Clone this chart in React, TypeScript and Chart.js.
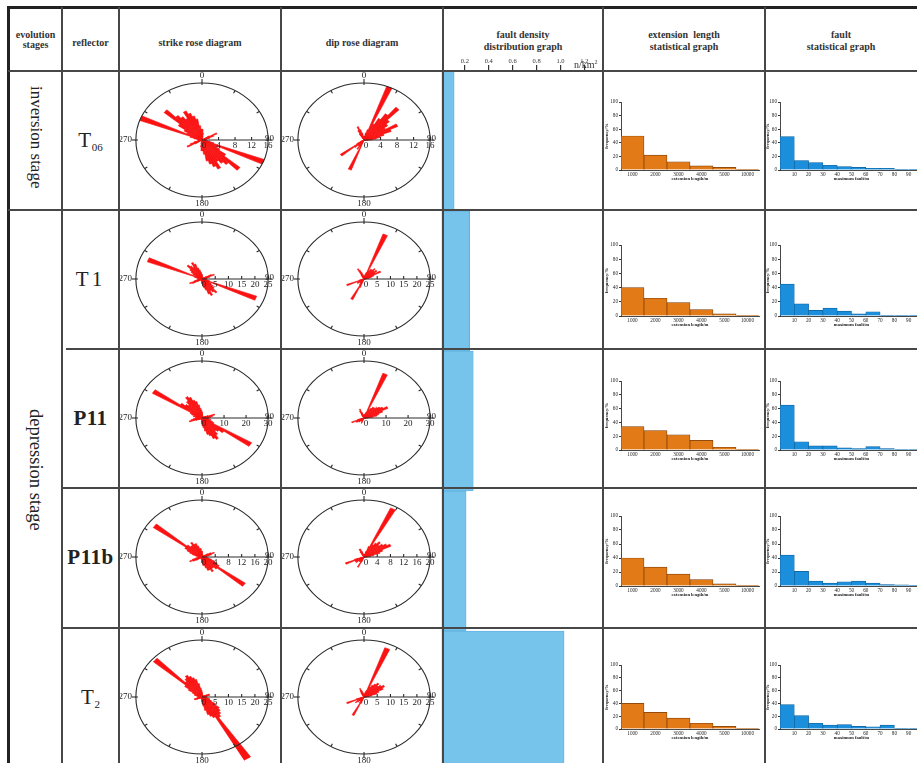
import React, { useEffect, useRef } from 'react';
import { Chart, registerables } from 'chart.js';

Chart.register(...registerables);

// ---------------- DATA ----------------
const STAGES = ['inversion stage', 'depression stage'];
const REFLECTOR_MAIN = ['T', 'T1', 'P11', 'P11b', 'T'];
const REFLECTOR_SUB = ['06', '', '', '', '2'];

// strike rose: 5° bins from 0° to 355°
const STRIKE_T06 = [
  3, 2, 1, 0, 0, 0, 0, 0, 0, 0, 0, 2,
  4, 3, 2, 1, 1, 0, 1, 1, 2, 3, 16, 4,
  5, 7, 12, 9, 8, 7, 9, 8, 7, 6, 4, 3,
  3, 2, 1, 0, 0, 0, 0, 0, 0, 0, 0, 2,
  4, 3, 2, 1, 1, 0, 1, 1, 2, 3, 16, 4,
  5, 7, 12, 9, 8, 7, 9, 8, 7, 6, 4, 3,
];
const STRIKE_T1 = [
  2, 1, 1, 0, 0, 0, 0, 0, 0, 0, 1, 2,
  4, 5, 3, 2, 1, 1, 1, 1, 2, 3, 22, 3,
  4, 5, 6, 8, 7, 6, 8, 7, 5, 4, 3, 2,
  2, 1, 1, 0, 0, 0, 0, 0, 0, 0, 1, 2,
  4, 5, 3, 2, 1, 1, 1, 1, 2, 3, 22, 3,
  4, 5, 6, 8, 7, 6, 8, 7, 5, 4, 3, 2,
];
const STRIKE_P11 = [
  3, 2, 1, 0, 0, 0, 0, 0, 0, 0, 1, 1,
  2, 3, 6, 5, 4, 3, 3, 2, 4, 3, 5, 6,
  26, 12, 10, 9, 11, 13, 12, 10, 9, 7, 5, 4,
  3, 2, 1, 0, 0, 0, 0, 0, 0, 0, 1, 1,
  2, 3, 6, 5, 4, 3, 3, 2, 4, 3, 5, 6,
  26, 12, 10, 9, 11, 13, 12, 10, 9, 7, 5, 4,
];
const STRIKE_P11B = [
  2, 1, 1, 0, 0, 0, 0, 0, 0, 0, 1, 2,
  3, 4, 3, 2, 1, 1, 1, 1, 2, 3, 4, 5,
  6, 16, 6, 5, 5, 6, 5, 5, 4, 3, 3, 2,
  2, 1, 1, 0, 0, 0, 0, 0, 0, 0, 1, 2,
  3, 4, 3, 2, 1, 1, 1, 1, 2, 3, 4, 5,
  6, 18, 6, 5, 5, 6, 5, 5, 4, 3, 3, 2,
];
const STRIKE_T2 = [
  2, 1, 1, 0, 0, 0, 0, 0, 0, 0, 1, 1,
  2, 3, 3, 2, 1, 1, 1, 1, 2, 3, 3, 4,
  6, 8, 9, 10, 11, 32, 10, 9, 8, 6, 4, 3,
  2, 1, 1, 0, 0, 0, 0, 0, 0, 0, 1, 1,
  2, 3, 3, 2, 1, 1, 1, 1, 2, 3, 3, 4,
  6, 8, 24, 9, 10, 11, 10, 9, 8, 6, 4, 3,
];

// dip rose: 5° bins from 0° to 355°
const DIP_T06 = [
  1, 1, 2, 3, 16, 5, 7, 9, 12, 8, 7, 6,
  9, 7, 5, 4, 3, 2, 1, 0, 0, 0, 0, 0,
  0, 0, 0, 0, 0, 0, 0, 0, 0, 0, 0, 0,
  0, 0, 0, 0, 9, 2, 3, 2, 2, 3, 7, 2,
  1, 0, 0, 0, 0, 0, 0, 0, 0, 0, 0, 0,
  0, 0, 0, 0, 0, 2, 3, 4, 3, 2, 1, 1,
];
const DIP_T1 = [
  1, 1, 2, 3, 21, 4, 5, 5, 6, 5, 6, 5,
  7, 4, 3, 2, 1, 0, 0, 0, 0, 0, 0, 0,
  0, 0, 0, 0, 0, 0, 0, 0, 0, 0, 0, 0,
  0, 0, 0, 0, 4, 10, 3, 2, 2, 2, 3, 3,
  2, 7, 2, 1, 0, 0, 0, 0, 0, 0, 0, 0,
  0, 0, 0, 0, 0, 2, 5, 4, 3, 2, 1, 1,
];
const DIP_P11 = [
  1, 2, 2, 3, 25, 5, 6, 7, 7, 8, 9, 10,
  12, 9, 7, 6, 4, 2, 1, 0, 0, 0, 0, 0,
  0, 0, 0, 0, 0, 0, 0, 0, 0, 0, 0, 0,
  0, 0, 0, 0, 3, 2, 2, 2, 2, 3, 3, 4,
  4, 6, 3, 1, 0, 0, 0, 0, 0, 0, 0, 0,
  0, 0, 0, 0, 0, 2, 4, 5, 3, 2, 1, 1,
];
const DIP_P11B = [
  1, 1, 1, 2, 4, 19, 5, 6, 7, 6, 7, 8,
  9, 6, 5, 3, 2, 1, 0, 0, 0, 0, 0, 0,
  0, 0, 0, 0, 0, 0, 0, 0, 0, 0, 0, 0,
  0, 0, 0, 0, 2, 4, 2, 2, 2, 2, 3, 3,
  3, 6, 3, 1, 0, 0, 0, 0, 0, 0, 0, 0,
  0, 0, 0, 0, 0, 2, 3, 3, 2, 1, 1, 1,
];
const DIP_T2 = [
  1, 1, 2, 3, 23, 5, 6, 7, 8, 7, 8, 9,
  8, 6, 5, 3, 2, 1, 0, 0, 0, 0, 0, 0,
  0, 0, 0, 0, 0, 0, 0, 0, 0, 0, 0, 0,
  0, 0, 0, 0, 3, 9, 3, 2, 2, 3, 4, 3,
  2, 7, 3, 1, 0, 0, 0, 0, 0, 0, 0, 0,
  0, 0, 0, 0, 0, 2, 3, 4, 3, 2, 1, 1,
];

const ROSE_TICKS_T06 = [0, 4, 8, 12, 16];
const ROSE_TICKS_T1 = [0, 5, 10, 15, 20, 25];
const ROSE_TICKS_P11 = [0, 10, 20, 30];
const ROSE_TICKS_P11B = [0, 4, 8, 12, 16, 20];
const ROSE_TICKS_T2 = [0, 5, 10, 15, 20, 25];

// fault density (n/km²)
const DENSITY = [0.11, 0.24, 0.27, 0.21, 1.03];

// extension length histogram (%)
const EXT_LABELS = ['1000', '2000', '3000', '4000', '5000', '10000'];
const EXT_T06 = [50, 22, 12, 6, 4, 1];
const EXT_T1 = [40, 25, 19, 9, 3, 1];
const EXT_P11 = [34, 28, 22, 14, 4, 1];
const EXT_P11B = [40, 27, 17, 9, 3, 1];
const EXT_T2 = [40, 26, 17, 9, 4, 1];

// maximum fault histogram (%), bins of 10 m
const FAULT_BIN_CENTERS = [5, 15, 25, 35, 45, 55, 65, 75, 85, 95];
const FAULT_T06 = [49, 14, 11, 7, 5, 4, 2.5, 2.5, 0.6, 0.6];
const FAULT_T1 = [45, 17, 8, 11, 7, 3, 6, 1, 1, 1];
const FAULT_P11 = [65, 12, 6, 6, 3, 2, 5, 2, 0.6, 0.6];
const FAULT_P11B = [44, 21, 7, 4, 6, 7, 4, 2, 1.5, 1];
const FAULT_T2 = [38, 21, 9, 6, 7, 4, 3.5, 6, 1, 1];

const STRIKES = [STRIKE_T06, STRIKE_T1, STRIKE_P11, STRIKE_P11B, STRIKE_T2];
const DIPS = [DIP_T06, DIP_T1, DIP_P11, DIP_P11B, DIP_T2];
const ROSE_TICKS = [ROSE_TICKS_T06, ROSE_TICKS_T1, ROSE_TICKS_P11, ROSE_TICKS_P11B, ROSE_TICKS_T2];
const EXTS = [EXT_T06, EXT_T1, EXT_P11, EXT_P11B, EXT_T2];
const FAULTS = [FAULT_T06, FAULT_T1, FAULT_P11, FAULT_P11B, FAULT_T2];

// ---------------- LAYOUT / STYLE ----------------
const SERIF = '"Liberation Serif", "Times New Roman", serif';
const RED = 'rgb(250,18,18)';
const ORANGE = '#e27a17';
const ORANGE_EDGE = '#7a3d0c';
const BLUE = '#1b8fdc';
const BLUE_EDGE = '#0d5f9c';
const DENS_FILL = '#76c3ec';
const DENS_EDGE = '#5aaede';
const LINE = '#474747';

const ROW_TOP = [71, 210, 349, 488, 628];
const ROW_H = 139;
const HIST_TOP = [102, 245, 381, 516, 665];
const HIST_BOTTOM = [170, 316, 450, 586, 729];
const ROSE_SX = 1.16;

// ---------------- CHART HELPERS ----------------
const roseFrame = {
  id: 'roseFrame',
  beforeDatasetsDraw(chart: any, _a: any, o: any) {
    const s = chart.scales.r;
    const c = chart.ctx;
    c.save();
    c.translate(s.xCenter, s.yCenter);
    c.scale(o.sx, 1);
    c.translate(-s.xCenter, -s.yCenter);
  },
  afterDatasetsDraw(chart: any) {
    chart.ctx.restore();
  },
  afterDraw(chart: any, _a: any, o: any) {
    const s = chart.scales.r;
    const c = chart.ctx;
    const cx = s.xCenter;
    const cy = s.yCenter;
    const R = s.drawingArea;
    const rx = R * o.sx;
    c.save();
    c.strokeStyle = '#2a2a2a';
    c.fillStyle = '#222';
    c.lineWidth = 1.1;
    c.beginPath();
    c.ellipse(cx, cy, rx, R, 0, 0, Math.PI * 2);
    c.stroke();
    for (let a = 0; a < 360; a += 30) {
      const t = (a * Math.PI) / 180;
      const ux = Math.sin(t);
      const uy = -Math.cos(t);
      const px = cx + rx * ux;
      const py = cy + R * uy;
      const out = a % 90 === 0 ? 4 : 0;
      const inn = a % 90 === 0 ? 2 : 3;
      c.beginPath();
      c.moveTo(px + ux * out, py + uy * out);
      c.lineTo(px - ux * inn, py - uy * inn);
      c.stroke();
    }
    c.beginPath();
    c.moveTo(cx, cy);
    c.lineTo(cx + rx, cy);
    c.stroke();
    c.font = `9px ${SERIF}`;
    c.textAlign = 'center';
    c.textBaseline = 'top';
    o.ticks.forEach((v: number) => {
      const x = cx + o.sx * s.getDistanceFromCenterForValue(v);
      if (v > 0) {
        c.beginPath();
        c.moveTo(x, cy);
        c.lineTo(x, cy - 3);
        c.stroke();
      }
      c.fillText(String(v), x + (v === 0 ? 2 : 0), cy + 1);
    });
    c.textBaseline = 'bottom';
    c.fillText('0', cx, cy - R - 3);
    c.textBaseline = 'top';
    c.fillText('180', cx, cy + R + 2);
    c.textAlign = 'right';
    c.textBaseline = 'middle';
    c.fillText('270', cx - rx - 4, cy);
    c.textAlign = 'left';
    c.textBaseline = 'bottom';
    c.fillText('90', cx + rx - 3, cy + 3);
    c.restore();
  },
};

function roseConfig(values: number[], ticks: number[]): any {
  const labels = values.map((_, i) => `${i * 5}°`);
  return {
    type: 'polarArea',
    data: {
      labels,
      datasets: [
        {
          data: values,
          backgroundColor: RED,
          borderColor: RED,
          borderWidth: 0.6,
          clip: false,
        },
      ],
    },
    options: {
      animation: false,
      responsive: false,
      devicePixelRatio: 1,
      layout: { padding: { top: 12, bottom: 12, left: 4, right: 0 } },
      plugins: {
        legend: { display: false },
        tooltip: { enabled: false },
        roseFrame: { sx: ROSE_SX, ticks },
      },
      scales: {
        r: {
          min: 0,
          max: ticks[ticks.length - 1],
          ticks: { display: false },
          grid: { display: false },
          angleLines: { display: false },
          pointLabels: { display: false },
        },
      },
    },
    plugins: [roseFrame],
  };
}

const tinyFont = { family: SERIF, size: 5.2 };
const titleFont = { family: SERIF, size: 4.6, weight: 'bold' };

function histY(): any {
  return {
    min: 0,
    max: 100,
    ticks: { stepSize: 20, font: tinyFont, color: '#222', padding: 1 },
    grid: { drawOnChartArea: false, tickLength: 2, color: '#333' },
    border: { color: '#333', width: 0.9 },
    title: { display: true, text: 'frequency/%', font: titleFont, color: '#222', padding: 0 },
  };
}

function extConfig(values: number[]): any {
  return {
    type: 'bar',
    data: {
      labels: EXT_LABELS,
      datasets: [
        {
          data: values,
          backgroundColor: ORANGE,
          borderColor: ORANGE_EDGE,
          borderWidth: 0.7,
          barPercentage: 1,
          categoryPercentage: 1,
        },
      ],
    },
    options: {
      animation: false,
      responsive: false,
      devicePixelRatio: 1,
      layout: { padding: { top: 6, right: 4, left: 0, bottom: 0 }, autoPadding: false },
      plugins: { legend: { display: false }, tooltip: { enabled: false } },
      scales: {
        x: {
          grid: { display: false, drawTicks: false },
          border: { color: '#333', width: 0.9 },
          ticks: { font: tinyFont, color: '#222', padding: 2, maxRotation: 0, autoSkip: false },
          title: { display: true, text: 'extension length/m', font: titleFont, color: '#222', padding: 0 },
          afterFit: (s: any) => { s.height = 12; },
        },
        y: { ...histY(), afterFit: (s: any) => { s.width = 17; } },
      },
    },
  };
}

function faultConfig(values: number[]): any {
  return {
    type: 'bar',
    data: {
      datasets: [
        {
          data: values.map((v, i) => ({ x: FAULT_BIN_CENTERS[i], y: v })),
          backgroundColor: BLUE,
          borderColor: BLUE_EDGE,
          borderWidth: 0.7,
          barPercentage: 1,
          categoryPercentage: 1,
        },
      ],
    },
    options: {
      animation: false,
      responsive: false,
      devicePixelRatio: 1,
      layout: { padding: { top: 6, right: 7, left: 0, bottom: 0 }, autoPadding: false },
      plugins: { legend: { display: false }, tooltip: { enabled: false } },
      scales: {
        x: {
          type: 'linear',
          min: 0,
          max: 100,
          offset: false,
          grid: { display: false, drawTicks: false },
          border: { color: '#333', width: 0.9 },
          ticks: {
            stepSize: 10,
            font: tinyFont,
            color: '#222',
            padding: 2,
            maxRotation: 0,
            autoSkip: false,
            callback: (v: number) => (v > 0 && v < 100 ? String(v) : ''),
          },
          title: { display: true, text: 'maximum fault/m', font: titleFont, color: '#222', padding: 0 },
          afterFit: (s: any) => { s.height = 12; },
        },
        y: { ...histY(), afterFit: (s: any) => { s.width = 15; } },
      },
    },
  };
}

function densityConfig(): any {
  return {
    type: 'bar',
    data: {
      labels: REFLECTOR_MAIN.map((m, i) => m + REFLECTOR_SUB[i]),
      datasets: [
        {
          data: DENSITY,
          backgroundColor: DENS_FILL,
          borderColor: DENS_EDGE,
          borderWidth: 0.8,
          barPercentage: 1,
          categoryPercentage: 1,
        },
      ],
    },
    options: {
      indexAxis: 'y',
      animation: false,
      responsive: false,
      devicePixelRatio: 1,
      layout: { padding: 0, autoPadding: false },
      plugins: { legend: { display: false }, tooltip: { enabled: false } },
      scales: {
        x: {
          position: 'top',
          min: 0,
          max: 1.356,
          border: { display: false },
          grid: {
            drawOnChartArea: false,
            tickLength: 6,
            lineWidth: 1.2,
            color: (ctx: any) => (ctx.tick && ctx.tick.value > 0.01 && ctx.tick.value < 1.3 ? '#333' : 'rgba(0,0,0,0)'),
          },
          ticks: {
            stepSize: 0.2,
            includeBounds: false,
            padding: 0,
            font: { family: SERIF, size: 6.5 },
            color: '#333',
            maxRotation: 0,
            autoSkip: false,
            callback: (v: number) => (v > 0.01 && v < 1.3 ? v.toFixed(1) : ''),
          },
          afterFit: (s: any) => { s.height = 16; },
        },
        y: { display: false },
      },
    },
  };
}

function ChartBox(props: { left: number; top: number; width: number; height: number; make: () => any }) {
  const ref = useRef<HTMLCanvasElement>(null);
  useEffect(() => {
    const chart = new Chart(ref.current as HTMLCanvasElement, props.make());
    return () => chart.destroy();
  }, []);
  return (
    <canvas
      ref={ref}
      width={props.width}
      height={props.height}
      style={{ position: 'absolute', left: props.left, top: props.top, width: props.width, height: props.height }}
    />
  );
}

function HLine({ x1, x2, y, w = 2, c = LINE }: { x1: number; x2: number; y: number; w?: number; c?: string }) {
  return <div style={{ position: 'absolute', left: x1, top: y - w / 2, width: x2 - x1, height: w, background: c }} />;
}
function VLine({ y1, y2, x, w = 2, c = LINE }: { y1: number; y2: number; x: number; w?: number; c?: string }) {
  return <div style={{ position: 'absolute', left: x - w / 2, top: y1, width: w, height: y2 - y1, background: c }} />;
}

const headStyle: React.CSSProperties = {
  position: 'absolute',
  textAlign: 'center',
  fontFamily: SERIF,
  fontWeight: 'bold',
  fontSize: 10,
  lineHeight: '11px',
  color: '#333',
};

export default function App() {
  return (
    <div style={{ position: 'fixed', left: 0, top: 0, width: 917, height: 763, overflow: 'hidden', background: '#fff' }}>
      {/* density column */}
      <ChartBox left={441} top={55} width={162} height={716} make={densityConfig} />

      {ROW_TOP.map((top, i) => (
        <React.Fragment key={i}>
          <ChartBox left={119} top={top} width={162} height={ROW_H} make={() => roseConfig(STRIKES[i], ROSE_TICKS[i])} />
          <ChartBox left={281} top={top} width={162} height={ROW_H} make={() => roseConfig(DIPS[i], ROSE_TICKS[i])} />
          <ChartBox
            left={604}
            top={HIST_TOP[i] - 6}
            width={159}
            height={HIST_BOTTOM[i] - HIST_TOP[i] + 18}
            make={() => extConfig(EXTS[i])}
          />
          <ChartBox
            left={765}
            top={HIST_TOP[i] - 6}
            width={165}
            height={HIST_BOTTOM[i] - HIST_TOP[i] + 18}
            make={() => faultConfig(FAULTS[i])}
          />
          <div
            style={{
              position: 'absolute',
              left: 62,
              top,
              width: 57,
              height: ROW_H,
              display: 'flex',
              alignItems: 'center',
              justifyContent: 'center',
              fontFamily: SERIF,
              fontSize: 21,
              color: '#222',
              letterSpacing: REFLECTOR_MAIN[i] === 'T1' ? 3 : 0.5,
              fontWeight: REFLECTOR_MAIN[i].startsWith('P') ? 'bold' : 'normal',
            }}
          >
            <span>
              {REFLECTOR_MAIN[i]}
              {REFLECTOR_SUB[i] ? (
                <sub style={{ fontSize: 11, verticalAlign: -4, letterSpacing: 0 }}>{REFLECTOR_SUB[i]}</sub>
              ) : null}
            </span>
          </div>
        </React.Fragment>
      ))}

      {/* stage labels */}
      <div style={{ position: 'absolute', left: 9, top: 71, width: 53, height: 132, display: 'flex', alignItems: 'center', justifyContent: 'center' }}>
        <span style={{ writingMode: 'vertical-rl', fontFamily: SERIF, fontSize: 17, color: '#222' }}>{STAGES[0]}</span>
      </div>
      <div style={{ position: 'absolute', left: 9, top: 210, width: 53, height: 520, display: 'flex', alignItems: 'center', justifyContent: 'center' }}>
        <span style={{ writingMode: 'vertical-rl', fontFamily: SERIF, fontSize: 18.5, color: '#222' }}>{STAGES[1]}</span>
      </div>

      {/* header */}
      <div style={{ ...headStyle, left: 9, top: 30, width: 53, lineHeight: '10px' }}>evolution<br />stages</div>
      <div style={{ ...headStyle, left: 62, top: 37, width: 57 }}>reflector</div>
      <div style={{ ...headStyle, left: 119, top: 37, width: 162 }}>strike rose diagram</div>
      <div style={{ ...headStyle, left: 281, top: 37, width: 162 }}>dip rose diagram</div>
      <div style={{ ...headStyle, left: 443, top: 29, width: 160, lineHeight: '12px' }}>fault density<br />distribution graph</div>
      <div style={{ ...headStyle, left: 603, top: 29, width: 162, lineHeight: '12px' }}>extension&nbsp; length<br />statistical graph</div>
      <div style={{ ...headStyle, left: 765, top: 29, width: 152, lineHeight: '12px' }}>fault<br />statistical graph</div>
      <div style={{ position: 'absolute', left: 574, top: 57, fontFamily: SERIF, fontSize: 10, color: '#333', lineHeight: '10px' }}>
        n/km<sup style={{ fontSize: 6, verticalAlign: 4 }}>2</sup>
      </div>

      {/* grid lines */}
      <HLine x1={8} x2={917} y={7.5} w={3} c="#222" />
      <VLine x={8.5} y1={6} y2={763} w={3} c="#222" />
      <HLine x1={8} x2={917} y={71} />
      <HLine x1={8} x2={917} y={210} />
      <HLine x1={66} x2={917} y={349} />
      <HLine x1={62} x2={917} y={488} />
      <HLine x1={62} x2={917} y={628} />
      <VLine x={62} y1={7} y2={763} />
      <VLine x={119} y1={7} y2={763} />
      <VLine x={281} y1={7} y2={763} />
      <VLine x={443} y1={7} y2={763} />
      <VLine x={603} y1={7} y2={763} />
      <VLine x={765} y1={7} y2={763} />
    </div>
  );
}
